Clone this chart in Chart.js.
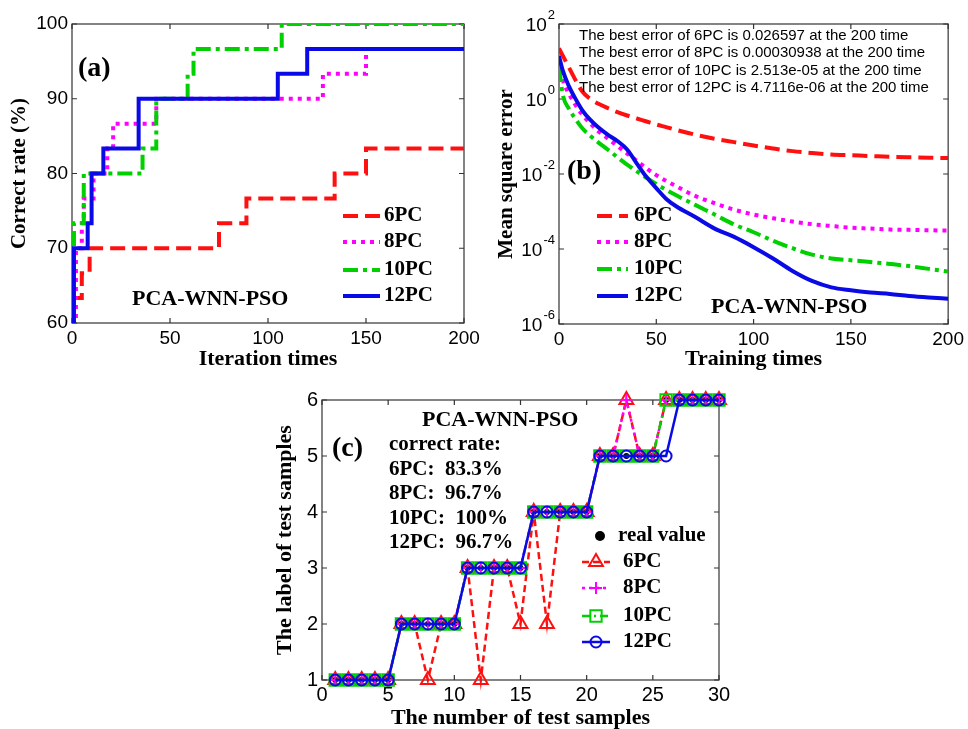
<!DOCTYPE html>
<html>
<head>
<meta charset="utf-8">
<script src="https://cdn.jsdelivr.net/npm/chart.js@4.4.0/dist/chart.umd.min.js"></script>
<style>
  body { margin: 0; background: #fff; overflow: hidden; }
  .panel { position: absolute; }
</style>
</head>
<body>
<div class="panel" style="left:0;top:0"><canvas id="chartA" width="484" height="375"></canvas></div>
<div class="panel" style="left:484px;top:0"><canvas id="chartB" width="484" height="375"></canvas></div>
<div class="panel" style="left:260px;top:375px"><canvas id="chartC" width="480" height="354"></canvas></div>
<script>
// Series names shared by the three panels
const seriesNames = ['6PC', '8PC', '10PC', '12PC'];

// (a) correct rate (%) against iteration, values change at these iterations
const iter6PC = [0, 5, 9, 75, 89, 134, 150, 200];
const rate6PC = [63.33, 66.67, 70, 73.33, 76.67, 80, 83.33, 83.33];
const iter8PC = [0, 2, 5, 6, 11, 18, 21, 43, 128, 150, 200];
const rate8PC = [60, 70, 73.33, 76.67, 80, 83.33, 86.67, 90, 93.33, 96.67, 96.67];
const iter10PC = [0, 1, 6, 36, 43, 59, 62, 107, 200];
const rate10PC = [66.67, 73.33, 80, 83.33, 90, 93.33, 96.67, 100, 100];
const iter12PC = [0, 1, 8, 10, 16, 34, 105, 120, 200];
const rate12PC = [60, 70, 73.33, 80, 83.33, 90, 93.33, 96.67, 96.67];
const iterTicks = [0, 50, 100, 150, 200];
const rateTicks = [60, 70, 80, 90, 100];

// (b) mean square error against training times
const trainTimes = [0, 2, 5, 8, 12, 16, 20, 25, 30, 35, 40, 45, 50, 55, 60, 70, 80, 90, 100, 110, 120, 130, 140, 150, 160, 170, 180, 190, 200];
const mse6PC = [22.4, 14.1, 7.1, 3.55, 1.58, 1.0, 0.76, 0.575, 0.447, 0.363, 0.302, 0.251, 0.209, 0.178, 0.151, 0.112, 0.087, 0.0708, 0.0575, 0.0479, 0.0407, 0.0363, 0.0331, 0.0316, 0.0302, 0.0288, 0.0279, 0.0272, 0.026597];
const mse8PC = [10, 3.16, 1.41, 0.76, 0.38, 0.224, 0.141, 0.089, 0.056, 0.035, 0.0224, 0.0141, 0.0093, 0.0066, 0.0048, 0.0026, 0.00166, 0.00112, 0.00083, 0.00066, 0.00054, 0.00046, 0.00041, 0.00037, 0.00035, 0.00033, 0.000324, 0.000316, 0.00030938];
const mse10PC = [7.1, 1.26, 0.56, 0.32, 0.166, 0.105, 0.071, 0.045, 0.028, 0.0178, 0.0117, 0.0079, 0.0054, 0.0038, 0.00275, 0.0015, 0.00083, 0.00045, 0.00028, 0.000166, 0.000105, 7.1e-5, 5.6e-5, 5.0e-5, 4.5e-5, 4.0e-5, 3.5e-5, 2.95e-5, 2.513e-5];
const mse12PC = [14.1, 5.6, 2.24, 1.12, 0.5, 0.28, 0.178, 0.112, 0.076, 0.045, 0.019, 0.0083, 0.0042, 0.0022, 0.0014, 7.1e-4, 3.5e-4, 2.1e-4, 1.12e-4, 5.6e-5, 2.6e-5, 1.41e-5, 9.5e-6, 7.9e-6, 6.9e-6, 6.3e-6, 5.6e-6, 5.1e-6, 4.7116e-6];
const bestErrors = ['0.026597', '0.00030938', '2.513e-05', '4.7116e-06'];
const trainTicks = [0, 50, 100, 150, 200];
const mseTicks = [1e-6, 1e-4, 1e-2, 1, 100];

// (c) predicted label of each test sample
const sampleNo = [1, 2, 3, 4, 5, 6, 7, 8, 9, 10, 11, 12, 13, 14, 15, 16, 17, 18, 19, 20, 21, 22, 23, 24, 25, 26, 27, 28, 29, 30];
const realLabel = [1, 1, 1, 1, 1, 2, 2, 2, 2, 2, 3, 3, 3, 3, 3, 4, 4, 4, 4, 4, 5, 5, 5, 5, 5, 6, 6, 6, 6, 6];
const pred6PC = [1, 1, 1, 1, 1, 2, 2, 1, 2, 2, 3, 1, 3, 3, 2, 4, 2, 4, 4, 4, 5, 5, 6, 5, 5, 6, 6, 6, 6, 6];
const pred8PC = [1, 1, 1, 1, 1, 2, 2, 2, 2, 2, 3, 3, 3, 3, 3, 4, 4, 4, 4, 4, 5, 5, 6, 5, 5, 6, 6, 6, 6, 6];
const pred10PC = [1, 1, 1, 1, 1, 2, 2, 2, 2, 2, 3, 3, 3, 3, 3, 4, 4, 4, 4, 4, 5, 5, 5, 5, 5, 6, 6, 6, 6, 6];
const pred12PC = [1, 1, 1, 1, 1, 2, 2, 2, 2, 2, 3, 3, 3, 3, 3, 4, 4, 4, 4, 4, 5, 5, 5, 5, 5, 5, 6, 6, 6, 6];
const correctRates = ['83.3%', '96.7%', '100%', '96.7%'];
const sampleTicks = [0, 5, 10, 15, 20, 25, 30];
const labelTicks = [1, 2, 3, 4, 5, 6];

// Styles
const SERIF = '"Liberation Serif", "Times New Roman", serif';
const SANS = '"Liberation Sans", Arial, sans-serif';
const RED = '#ff1010', MAGENTA = '#ff00ff', GREEN = '#00d000', BLUE = '#0a0ae6';
const colors = [RED, MAGENTA, GREEN, BLUE];
const thickDash = [[15, 7], [4, 5], [15, 5, 4, 5], []];
const thinDash = [[7, 4], [3, 4], [8, 4, 2, 4], []];
const markers = ['triangle', 'cross', 'rect', 'circle'];
const markerSize = [8, 6, 8, 5.5];
const tickFont = { family: SANS, size: 19 };

function put(ctx, s, x, y, font, align) {
  ctx.font = font;
  ctx.fillStyle = '#000';
  ctx.textAlign = align || 'left';
  ctx.textBaseline = 'middle';
  ctx.fillText(s, x, y);
}

function legendLine(ctx, x1, x2, y, color, dash, width) {
  ctx.save();
  ctx.strokeStyle = color;
  ctx.lineWidth = width;
  ctx.setLineDash(dash);
  ctx.beginPath();
  ctx.moveTo(x1, y);
  ctx.lineTo(x2, y);
  ctx.stroke();
  ctx.restore();
}

function legendMarker(ctx, style, r, x, y, color) {
  ctx.save();
  ctx.strokeStyle = color;
  ctx.fillStyle = color;
  ctx.lineWidth = 2;
  ctx.beginPath();
  if (style === 'triangle') {
    for (let k = 0; k < 3; k++) {
      const a = k * 2 * Math.PI / 3;
      const px = x + Math.sin(a) * r, py = y - Math.cos(a) * r;
      if (k === 0) ctx.moveTo(px, py); else ctx.lineTo(px, py);
    }
    ctx.closePath();
    ctx.stroke();
  } else if (style === 'cross') {
    ctx.moveTo(x - r, y); ctx.lineTo(x + r, y);
    ctx.moveTo(x, y - r); ctx.lineTo(x, y + r);
    ctx.stroke();
  } else if (style === 'rect') {
    const h = r * Math.SQRT1_2;
    ctx.rect(x - h, y - h, 2 * h, 2 * h);
    ctx.stroke();
  } else if (style === 'dot') {
    ctx.arc(x, y, r, 0, 2 * Math.PI);
    ctx.fill();
  } else {
    ctx.arc(x, y, r, 0, 2 * Math.PI);
    ctx.stroke();
  }
  ctx.restore();
}

// box round the plot area with inward ticks on all four sides
const framePlugin = {
  id: 'frame',
  beforeDatasetsDraw(chart) {
    const { ctx, chartArea: a } = chart;
    const xs = chart.scales.x, ys = chart.scales.y;
    ctx.save();
    ctx.strokeStyle = '#333';
    ctx.lineWidth = 1.2;
    ctx.strokeRect(a.left, a.top, a.right - a.left, a.bottom - a.top);
    ctx.beginPath();
    xs.ticks.forEach(t => {
      const p = xs.getPixelForValue(t.value);
      ctx.moveTo(p, a.bottom); ctx.lineTo(p, a.bottom - 5);
      ctx.moveTo(p, a.top); ctx.lineTo(p, a.top + 5);
    });
    ys.ticks.forEach(t => {
      const p = ys.getPixelForValue(t.value);
      ctx.moveTo(a.left, p); ctx.lineTo(a.left + 5, p);
      ctx.moveTo(a.right, p); ctx.lineTo(a.right - 5, p);
    });
    ctx.stroke();
    ctx.restore();
  }
};

function decor(fn) {
  return { id: 'decor', afterDatasetsDraw(chart) { fn(chart.ctx, chart); } };
}

function setTicks(list) {
  return s => { s.ticks = list.map(v => ({ value: v })); };
}

function titleFont(size) {
  return { family: SERIF, size: size, weight: 'bold' };
}

const baseOptions = {
  responsive: false,
  animation: false,
  events: [],
  plugins: { legend: { display: false }, tooltip: { enabled: false } }
};

// ---------- (a) ----------
const seriesA = [[iter6PC, rate6PC], [iter8PC, rate8PC], [iter10PC, rate10PC], [iter12PC, rate12PC]];
const datasetsA = seriesA.map(([xs, ys], i) => ({
  label: seriesNames[i],
  data: xs.map((x, j) => ({ x: x, y: ys[j] })),
  borderColor: colors[i],
  borderDash: thickDash[i],
  borderWidth: 4,
  stepped: true,
  pointRadius: 0,
  fill: false
})).reverse();

new Chart(document.getElementById('chartA'), {
  type: 'line',
  data: { datasets: datasetsA },
  options: Object.assign({}, baseOptions, {
    layout: { padding: { top: 24, right: 20, left: 0, bottom: 0 } },
    scales: {
      x: {
        type: 'linear', min: 0, max: 200,
        afterBuildTicks: setTicks(iterTicks),
        afterFit: s => { s.height = 52; },
        grid: { display: false, drawTicks: false }, border: { display: false },
        ticks: { font: tickFont, color: '#000', padding: 4, maxRotation: 0 },
        title: { display: true, text: 'Iteration times', font: titleFont(22), color: '#000', padding: { top: 0, bottom: 2 } }
      },
      y: {
        type: 'linear', min: 60, max: 100,
        afterBuildTicks: setTicks(rateTicks),
        afterFit: s => { s.width = 72; },
        grid: { display: false, drawTicks: false }, border: { display: false },
        ticks: { font: tickFont, color: '#000', padding: 4 },
        title: { display: true, text: 'Correct rate (%)', font: titleFont(21), color: '#000', padding: { top: 7, bottom: 0 } }
      }
    }
  }),
  plugins: [framePlugin, decor(ctx => {
    put(ctx, '(a)', 78, 69, 'bold 28px ' + SERIF);
    put(ctx, 'PCA-WNN-PSO', 132, 299, 'bold 22px ' + SERIF);
    const rows = [216, 242, 270, 296];
    seriesNames.forEach((name, i) => {
      legendLine(ctx, 343, 380, rows[i], colors[i], thickDash[i], 4);
      put(ctx, name, 384, rows[i], 'bold 21px ' + SERIF);
    });
  })]
});

// ---------- (b) ----------
const seriesB = [mse6PC, mse8PC, mse10PC, mse12PC];
const datasetsB = seriesB.map((vals, i) => ({
  label: seriesNames[i],
  data: trainTimes.map((t, j) => ({ x: t, y: vals[j] })),
  borderColor: colors[i],
  borderDash: thickDash[i],
  borderWidth: 4,
  cubicInterpolationMode: 'monotone',
  pointRadius: 0,
  fill: false
})).reverse();

new Chart(document.getElementById('chartB'), {
  type: 'line',
  data: { datasets: datasetsB },
  options: Object.assign({}, baseOptions, {
    layout: { padding: { top: 24, right: 16, left: 0, bottom: 0 } },
    scales: {
      x: {
        type: 'linear', min: 0, max: 200,
        afterBuildTicks: setTicks(trainTicks),
        afterFit: s => { s.height = 51; },
        grid: { display: false, drawTicks: false }, border: { display: false },
        ticks: { font: tickFont, color: '#000', padding: 4, maxRotation: 0 },
        title: { display: true, text: 'Training times', font: titleFont(22), color: '#000', padding: { top: 0, bottom: 2 } }
      },
      y: {
        type: 'logarithmic', min: 1e-6, max: 100,
        afterBuildTicks: setTicks(mseTicks),
        afterFit: s => { s.width = 75; },
        grid: { display: false, drawTicks: false }, border: { display: false },
        ticks: { display: false },
        title: { display: true, text: 'Mean square error', font: titleFont(21), color: '#000', padding: { top: 10, bottom: 0 } }
      }
    }
  }),
  plugins: [framePlugin, decor((ctx, chart) => {
    // powers of ten on the log axis
    const ys = chart.scales.y, right = chart.chartArea.left - 4;
    ys.ticks.forEach(t => {
      const py = ys.getPixelForValue(t.value);
      const exp = String(Math.round(Math.log10(t.value)));
      ctx.font = '13px ' + SANS;
      const w = ctx.measureText(exp).width;
      put(ctx, exp, right, py - 9, '13px ' + SANS, 'right');
      put(ctx, '10', right - w - 1, py + 2, '19px ' + SANS, 'right');
    });
    const lines = [36, 53, 71, 88];
    seriesNames.forEach((name, i) => {
      put(ctx, 'The best error of ' + name + ' is ' + bestErrors[i] + ' at the 200 time', 95, lines[i], '15px ' + SANS);
    });
    put(ctx, '(b)', 83, 172, 'bold 28px ' + SERIF);
    const rows = [216, 242, 269, 296];
    seriesNames.forEach((name, i) => {
      legendLine(ctx, 113, 144, rows[i], colors[i], thickDash[i], 4);
      put(ctx, name, 150, rows[i], 'bold 21px ' + SERIF);
    });
    put(ctx, 'PCA-WNN-PSO', 227, 307, 'bold 22px ' + SERIF);
  })]
});

// ---------- (c) ----------
const predictions = [pred6PC, pred8PC, pred10PC, pred12PC];
const datasetsC = predictions.map((vals, i) => ({
  label: seriesNames[i],
  data: sampleNo.map((n, j) => ({ x: n, y: vals[j] })),
  borderColor: colors[i],
  borderDash: thinDash[i],
  borderWidth: 2.5,
  pointStyle: markers[i],
  pointRadius: markerSize[i],
  pointBorderWidth: 2,
  pointBorderColor: colors[i],
  pointBackgroundColor: 'rgba(0,0,0,0)',
  clip: false,
  fill: false
}));
datasetsC.unshift({
  label: 'real value',
  data: sampleNo.map((n, j) => ({ x: n, y: realLabel[j] })),
  showLine: false,
  pointStyle: 'circle',
  pointRadius: 3,
  pointBorderWidth: 0,
  pointBackgroundColor: '#000',
  clip: false
});
datasetsC.reverse();

new Chart(document.getElementById('chartC'), {
  type: 'line',
  data: { datasets: datasetsC },
  options: Object.assign({}, baseOptions, {
    layout: { padding: { top: 25, right: 21, left: 0, bottom: 0 } },
    scales: {
      x: {
        type: 'linear', min: 0, max: 30,
        afterBuildTicks: setTicks(sampleTicks),
        afterFit: s => { s.height = 49; },
        grid: { display: false, drawTicks: false }, border: { display: false },
        ticks: { font: { family: SANS, size: 20 }, color: '#000', padding: 3, maxRotation: 0 },
        title: { display: true, text: 'The number of test samples', font: { family: SERIF, size: 22, weight: 'bold', lineHeight: 1 }, color: '#000', padding: { top: 0, bottom: 0 } }
      },
      y: {
        type: 'linear', min: 1, max: 6,
        afterBuildTicks: setTicks(labelTicks),
        afterFit: s => { s.width = 62; },
        grid: { display: false, drawTicks: false }, border: { display: false },
        ticks: { font: { family: SANS, size: 20 }, color: '#000', padding: 4 },
        title: { display: true, text: 'The label of test samples', font: titleFont(22), color: '#000', padding: { top: 12, bottom: 0 } }
      }
    }
  }),
  plugins: [framePlugin, decor(ctx => {
    const f = 'bold 21px ' + SERIF;
    put(ctx, 'PCA-WNN-PSO', 162, 45, 'bold 22px ' + SERIF);
    put(ctx, '(c)', 72, 74, 'bold 28px ' + SERIF);
    put(ctx, 'correct rate:', 129, 70, f);
    const rateRows = [95, 119, 144, 168];
    seriesNames.forEach((name, i) => {
      put(ctx, name + ':  ' + correctRates[i], 129, rateRows[i], f);
    });
    legendMarker(ctx, 'dot', 5, 340, 161, '#000');
    put(ctx, 'real value', 358, 161, f);
    const rows = [187, 213, 241, 267];
    seriesNames.forEach((name, i) => {
      legendLine(ctx, 322, 350, rows[i], colors[i], thinDash[i], 2.5);
      legendMarker(ctx, markers[i], markerSize[i], 336, rows[i], colors[i]);
      put(ctx, name, 363, rows[i], f);
    });
  })]
});
</script>
</body>
</html>
